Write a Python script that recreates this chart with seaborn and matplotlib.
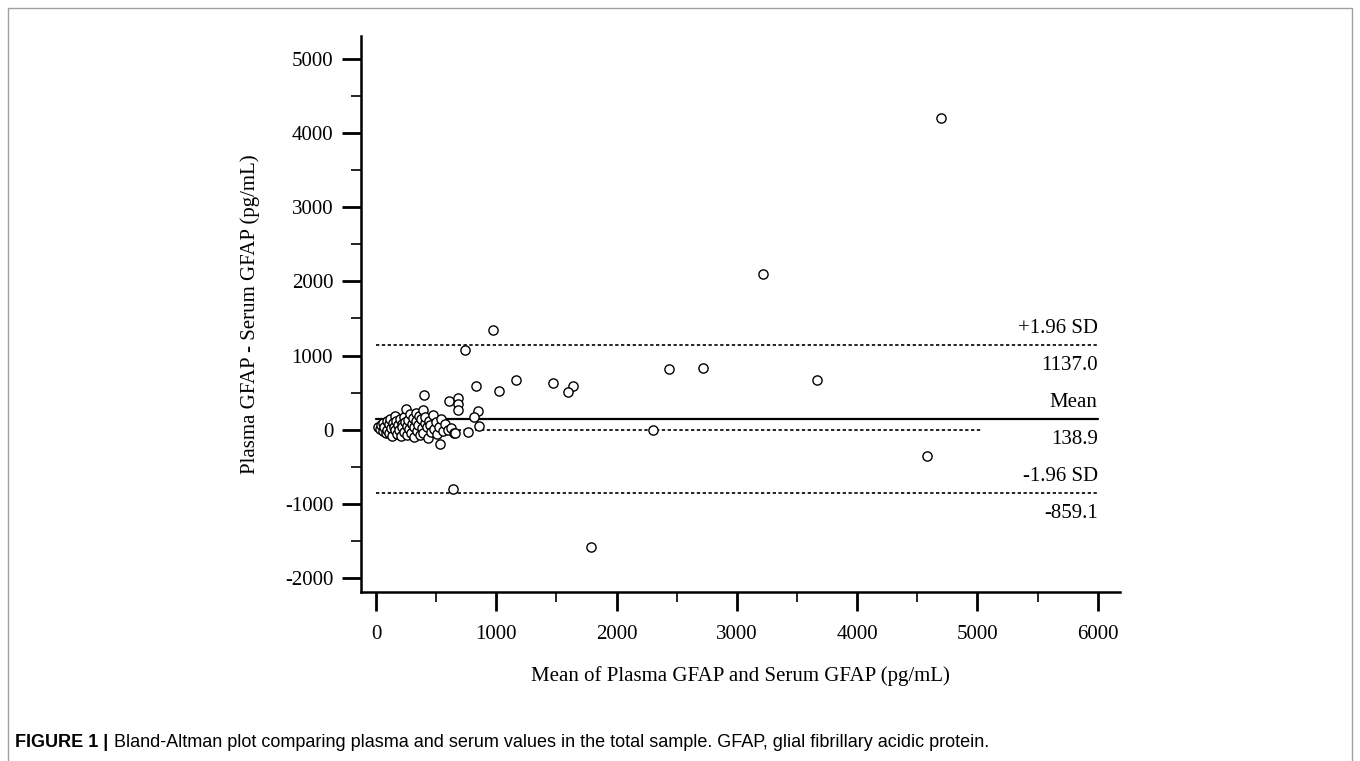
import matplotlib
matplotlib.use("Agg")
import matplotlib.pyplot as plt
from matplotlib.lines import Line2D
from matplotlib.ticker import MultipleLocator
import seaborn as sns
import pandas as pd

# Bland-Altman data: mean of the two methods vs difference
mean_vals = [
    20, 35, 45, 55, 60, 70, 80, 90, 95, 105, 110, 120, 125, 135, 140, 150,
    155, 160, 170, 175, 185, 190, 200, 205, 215, 220, 230, 235, 240, 250,
    255, 260, 270, 275, 285, 290, 300, 305, 315, 320, 330, 335, 345, 350,
    360, 365, 375, 380, 390, 395, 405, 410, 420, 430, 440, 450, 460, 470,
    480, 495, 505, 520, 540, 555, 575, 600, 625, 650,
    400, 610, 680, 680, 680, 830, 1020, 1160, 845, 815, 855, 765, 655, 536,
    640, 740, 970, 1475, 1635, 1600, 1790, 2300, 2440, 2720, 3220, 3670,
    4580, 4700,
]
diff_vals = [
    40, 10, 60, -20, 90, 30, -50, 120, 0, 70, -40, 150, 20, -80, 90, 40,
    -10, 190, 110, -60, 60, 0, 140, -90, 80, 30, -30, 170, 100, 280,
    50, -70, 130, 10, 210, -40, 80, 160, -100, 40, 230, 110, -20, 60,
    190, -70, 140, 20, 260, -50, 90, 170, 30, -110, 120, 60, -30, 200,
    10, 100, -60, 40, 150, -20, 70, 0, 20, -50,
    465, 380, 430, 340, 270, 589, 522, 670, 256, 175, 50, -30, -45, -197,
    -800, 1078, 1350, 628, 589, 505, -1578, -5, 818, 834, 2097, 668,
    -360, 4200,
]

mean_diff = 138.9
upper_loa = 1137.0
lower_loa = -859.1
zero_line_end = 5040

x_ticks = [0, 1000, 2000, 3000, 4000, 5000, 6000]
y_ticks = [-2000, -1000, 0, 1000, 2000, 3000, 4000, 5000]

df = pd.DataFrame({"mean": mean_vals, "diff": diff_vals})

sns.set_theme(style="ticks")
plt.rcParams["font.family"] = ["Liberation Serif", "DejaVu Serif"]
plt.rcParams["axes.unicode_minus"] = False

fig = plt.figure(figsize=(13.6, 7.61), dpi=100)
ax = fig.add_axes([0.2654, 0.2221, 0.5581, 0.7306])

# reference lines
ax.plot([0, 6000], [upper_loa, upper_loa], color="black", lw=1.2, ls=(0, (2, 1.5)))
ax.plot([0, 6000], [lower_loa, lower_loa], color="black", lw=1.2, ls=(0, (2, 1.5)))
ax.plot([0, 6000], [mean_diff, mean_diff], color="black", lw=1.6)
ax.plot([0, zero_line_end], [0, 0], color="black", lw=1.2, ls=(0, (2, 1.5)))

sns.scatterplot(data=df, x="mean", y="diff", ax=ax, marker="o", s=44,
                facecolor="white", edgecolor="black", linewidth=1.0, zorder=3)

ax.set_xlim(-125, 6185)
ax.set_ylim(-2190, 5310)
ax.set_xticks(x_ticks)
ax.set_yticks(y_ticks)
ax.xaxis.set_minor_locator(MultipleLocator(500))
ax.yaxis.set_minor_locator(MultipleLocator(500))
ax.tick_params(axis="both", which="major", length=14, width=2, labelsize=15,
               color="black", labelcolor="black")
ax.tick_params(axis="both", which="minor", length=7, width=1.2, color="black")
ax.tick_params(axis="x", which="major", pad=10)
ax.tick_params(axis="y", which="major", pad=6)

for side in ["top", "right"]:
    ax.spines[side].set_visible(False)
for side in ["left", "bottom"]:
    ax.spines[side].set_linewidth(1.8)
    ax.spines[side].set_color("black")

ax.set_xlabel("Mean of Plasma GFAP and Serum GFAP (pg/mL)", fontsize=15,
              labelpad=16, color="black")
ax.set_ylabel("Plasma GFAP - Serum GFAP (pg/mL)", fontsize=15,
              labelpad=18, color="black")

# line annotations on the right
for val, top_txt, bot_txt in [(upper_loa, "+1.96 SD", f"{upper_loa:.1f}"),
                              (mean_diff, "Mean", f"{mean_diff:.1f}"),
                              (lower_loa, "-1.96 SD", f"{lower_loa:.1f}")]:
    ax.annotate(top_txt, (6000, val), xytext=(0, 5), textcoords="offset points",
                ha="right", va="bottom", fontsize=15, color="black")
    ax.annotate(bot_txt, (6000, val), xytext=(0, -8), textcoords="offset points",
                ha="right", va="top", fontsize=15, color="black")

# frame (left, top, right) and caption
frame_x = [0.006, 0.006, 0.994, 0.994]
frame_y = [0.0, 0.989, 0.989, 0.0]
fig.add_artist(Line2D(frame_x, frame_y, transform=fig.transFigure,
                      color="#a0a0a0", lw=1.0))
cap_font = ["Liberation Sans", "DejaVu Sans"]
cap1 = fig.text(0.011, 0.024, "FIGURE 1 |", fontsize=13, fontweight="bold",
                family=cap_font, va="center", ha="left", color="black")
fig.canvas.draw()
bb = cap1.get_window_extent().transformed(fig.transFigure.inverted())
fig.text(bb.x1 + 0.004, 0.024,
         "Bland-Altman plot comparing plasma and serum values in the total sample. "
         "GFAP, glial fibrillary acidic protein.",
         fontsize=13, family=cap_font, va="center", ha="left", color="black")

fig.savefig("out.png", dpi=100)
